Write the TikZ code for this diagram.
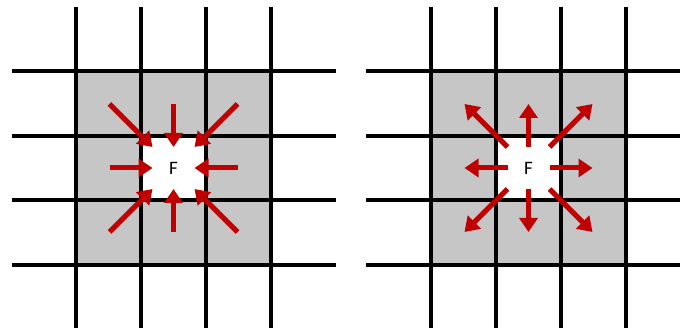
\documentclass[tikz,border=0pt]{standalone}
\usepackage{fontspec}
\setmainfont{Carlito}
\usetikzlibrary{arrows.meta}
\definecolor{arrowred}{RGB}{192,0,0}
\definecolor{cellgray}{RGB}{198,198,198}
\begin{document}
\begin{tikzpicture}[x=1pt,y=-1pt,
  gridline/.style={line width=3.5pt},
  flow/.style={arrowred,line width=5pt,-{Triangle[length=14pt,width=18pt]}},
  flabel/.style={font=\fontsize{19}{19}\selectfont,inner sep=0pt}]
\useasboundingbox (0,0) rectangle (680,331);
% left panel
\fill[cellgray] (76,71) rectangle (271,265);
\fill[white] (141,136) rectangle (206,200);
\foreach \x in {76,141,206,271} \draw[gridline] (\x,7) -- (\x,328);
\foreach \y in {71,136,200,265} \draw[gridline] (12,\y) -- (336,\y);
\node[flabel] (FL) at (173.5,168) {F};
\foreach \dx/\dy [count=\i] in {1/0,1/1,0/1,-1/1,-1/0,-1/-1,0/-1,1/-1} {
  \coordinate (Lt\i) at ([shift={(64*\dx,64*\dy)}]FL.center);
  \coordinate (Lh\i) at ([shift={(21*\dx,21*\dy)}]FL.center);
  \draw[flow] (Lt\i) -- (Lh\i);
}
% right panel
\fill[cellgray] (431,71) rectangle (626,265);
\fill[white] (496,136) rectangle (561,200);
\foreach \x in {431,496,561,626} \draw[gridline] (\x,7) -- (\x,328);
\foreach \y in {71,136,200,265} \draw[gridline] (366,\y) -- (680,\y);
\node[flabel] (FR) at (528.5,168) {F};
\foreach \dx/\dy [count=\i] in {1/0,1/1,0/1,-1/1,-1/0,-1/-1,0/-1,1/-1} {
  \coordinate (Rt\i) at ([shift={(64*\dx,64*\dy)}]FR.center);
  \coordinate (Rh\i) at ([shift={(21*\dx,21*\dy)}]FR.center);
  \draw[flow] (Rh\i) -- (Rt\i);
}
\end{tikzpicture}
\end{document}
